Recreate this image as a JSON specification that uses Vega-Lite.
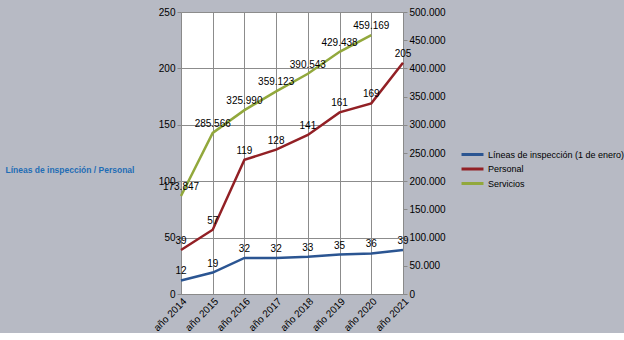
{
  "$schema": "https://vega.github.io/schema/vega-lite/v6.json",
  "width": 222,
  "height": 282,
  "padding": {"left": 5, "top": 7, "right": 0, "bottom": 0},
  "background": "#b7bac4",
  "config": {
    "locale": {"number": {"decimal": ",", "thousands": ".", "grouping": [3], "currency": ["", ""]}},
    "view": {"fill": "white", "stroke": null},
    "font": "Liberation Sans",
    "axis": {"labelFont": "Liberation Sans", "labelFontSize": 10, "labelColor": "#000000", "domainColor": "#8a8a8a", "tickColor": "#8a8a8a", "gridColor": "#8c8c8c", "gridOpacity": 1}
  },
  "data": {
    "values": [
      {"year": "año 2014", "series": "Líneas de inspección (1 de enero)", "value": 12},
      {"year": "año 2015", "series": "Líneas de inspección (1 de enero)", "value": 19},
      {"year": "año 2016", "series": "Líneas de inspección (1 de enero)", "value": 32},
      {"year": "año 2017", "series": "Líneas de inspección (1 de enero)", "value": 32},
      {"year": "año 2018", "series": "Líneas de inspección (1 de enero)", "value": 33},
      {"year": "año 2019", "series": "Líneas de inspección (1 de enero)", "value": 35},
      {"year": "año 2020", "series": "Líneas de inspección (1 de enero)", "value": 36},
      {"year": "año 2021", "series": "Líneas de inspección (1 de enero)", "value": 39},
      {"year": "año 2014", "series": "Personal", "value": 39},
      {"year": "año 2015", "series": "Personal", "value": 57},
      {"year": "año 2016", "series": "Personal", "value": 119},
      {"year": "año 2017", "series": "Personal", "value": 128},
      {"year": "año 2018", "series": "Personal", "value": 141},
      {"year": "año 2019", "series": "Personal", "value": 161},
      {"year": "año 2020", "series": "Personal", "value": 169},
      {"year": "año 2021", "series": "Personal", "value": 205},
      {"year": "año 2014", "series": "Servicios", "value": 173847},
      {"year": "año 2015", "series": "Servicios", "value": 285566},
      {"year": "año 2016", "series": "Servicios", "value": 325990},
      {"year": "año 2017", "series": "Servicios", "value": 359123},
      {"year": "año 2018", "series": "Servicios", "value": 390543},
      {"year": "año 2019", "series": "Servicios", "value": 429438},
      {"year": "año 2020", "series": "Servicios", "value": 459169}
    ]
  },
  "encoding": {
    "x": {
      "field": "year",
      "type": "ordinal",
      "sort": null,
      "scale": {"type": "point", "padding": 0},
      "axis": {"title": null, "labelAngle": -45, "labelAlign": "right", "labelBaseline": "top", "labelPadding": 2, "ticks": false, "grid": true, "domainColor": "#8a8a8a"}
    }
  },
  "layer": [
    {
      "transform": [{"filter": "datum.series !== 'Servicios'"}],
      "encoding": {
        "y": {
          "field": "value",
          "type": "quantitative",
          "scale": {"domain": [0, 250], "nice": false},
          "axis": {
            "values": [0, 50, 100, 150, 200, 250],
            "title": "Líneas de inspección / Personal",
            "titleAngle": 0,
            "titleAlign": "left",
            "titleBaseline": "middle",
            "titleX": -176,
            "titleY": 157,
            "titleFont": "Liberation Sans",
            "titleFontSize": 8.5,
            "titleFontWeight": "bold",
            "titleColor": "#1f6db5",
            "tickSize": 4,
            "labelPadding": 2,
            "grid": true
          }
        }
      },
      "layer": [
        {
          "mark": {"type": "line", "strokeWidth": 2.5},
          "encoding": {
            "color": {
              "field": "series",
              "type": "nominal",
              "scale": {
                "domain": ["Líneas de inspección (1 de enero)", "Personal", "Servicios"],
                "range": ["#2b5592", "#922025", "#92a83c"]
              },
              "legend": {
                "title": null,
                "orient": "none",
                "legendX": 284,
                "legendY": 135,
                "symbolType": "M-1.83,0H1.83",
                "symbolStrokeWidth": 3,
                "symbolSize": 144,
                "labelFont": "Liberation Sans",
                "labelFontSize": 9,
                "labelColor": "#000000",
                "labelOffset": 8,
                "rowPadding": 0.5
              }
            }
          }
        },
        {
          "mark": {"type": "text", "dy": -9, "fontSize": 10, "font": "Liberation Sans", "color": "#000000"},
          "encoding": {"text": {"field": "value", "type": "quantitative", "format": ",.0f"}}
        }
      ]
    },
    {
      "transform": [{"filter": "datum.series === 'Servicios'"}],
      "encoding": {
        "y": {
          "field": "value",
          "type": "quantitative",
          "scale": {"domain": [0, 500000], "nice": false},
          "axis": {
            "orient": "right",
            "values": [0, 50000, 100000, 150000, 200000, 250000, 300000, 350000, 400000, 450000, 500000],
            "format": ",.0f",
            "title": null,
            "tickSize": 4,
            "labelPadding": 2,
            "grid": false
          }
        }
      },
      "layer": [
        {
          "mark": {"type": "line", "strokeWidth": 2.5},
          "encoding": {"color": {"field": "series", "type": "nominal"}}
        },
        {
          "mark": {"type": "text", "dy": -9, "fontSize": 10, "font": "Liberation Sans", "color": "#000000"},
          "encoding": {"text": {"field": "value", "type": "quantitative", "format": ",.0f"}}
        }
      ]
    }
  ],
  "resolve": {"scale": {"y": "independent"}}
}
